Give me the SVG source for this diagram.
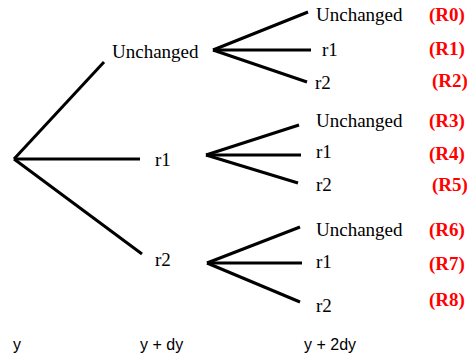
<svg xmlns="http://www.w3.org/2000/svg" width="467" height="356" viewBox="0 0 467 356">
<style>
.c line{stroke:#000;stroke-width:3;stroke-linecap:butt}
.s{font-family:"Liberation Serif","Times New Roman",serif;font-size:19px;fill:#000}
.r{font-family:"Liberation Serif","Times New Roman",serif;font-size:19px;font-weight:bold;fill:#ff0000}
.a{font-family:"Liberation Sans",Arial,sans-serif;font-size:16px;fill:#000}
</style>
<rect width="467" height="356" fill="#fff"/>
<g id="connectors" class="c">
<line x1="14" y1="159" x2="104" y2="62"/>
<line x1="14" y1="159" x2="140" y2="159"/>
<line x1="14" y1="159" x2="142" y2="254"/>
<line x1="213" y1="50" x2="308" y2="12"/>
<line x1="213" y1="50" x2="311" y2="50"/>
<line x1="213" y1="50" x2="307" y2="82"/>
<line x1="206" y1="155" x2="299" y2="125"/>
<line x1="206" y1="155" x2="301" y2="155"/>
<line x1="206" y1="155" x2="298" y2="183"/>
<line x1="207" y1="263" x2="300" y2="227"/>
<line x1="207" y1="263" x2="302" y2="263"/>
<line x1="207" y1="263" x2="300" y2="302"/>
</g>
<g id="n-root"><text class="a" x="13" y="350">y</text></g>
<g id="n-u"><text class="s" x="112" y="58">Unchanged</text></g>
<g id="n-r1"><text class="s" x="155" y="166">r1</text></g>
<g id="n-r2"><text class="s" x="155" y="266">r2</text></g>
<g id="n-R0"><text class="s" x="316" y="21">Unchanged</text><text class="r" x="429" y="21">(R0)</text></g>
<g id="n-R1"><text class="s" x="322" y="56">r1</text><text class="r" x="429" y="55">(R1)</text></g>
<g id="n-R2"><text class="s" x="315" y="89">r2</text><text class="r" x="432" y="87">(R2)</text></g>
<g id="n-R3"><text class="s" x="316" y="127">Unchanged</text><text class="r" x="429" y="127">(R3)</text></g>
<g id="n-R4"><text class="s" x="316" y="158">r1</text><text class="r" x="429" y="160">(R4)</text></g>
<g id="n-R5"><text class="s" x="316" y="191">r2</text><text class="r" x="432" y="191">(R5)</text></g>
<g id="n-R6"><text class="s" x="316" y="236">Unchanged</text><text class="r" x="429" y="236">(R6)</text></g>
<g id="n-R7"><text class="s" x="316" y="268">r1</text><text class="r" x="429" y="270">(R7)</text></g>
<g id="n-R8"><text class="s" x="316" y="312">r2</text><text class="r" x="429" y="306">(R8)</text></g>
<g id="axis">
<text class="a" x="140" y="350">y + dy</text>
<text class="a" x="304" y="350">y + 2dy</text>
</g>
</svg>
